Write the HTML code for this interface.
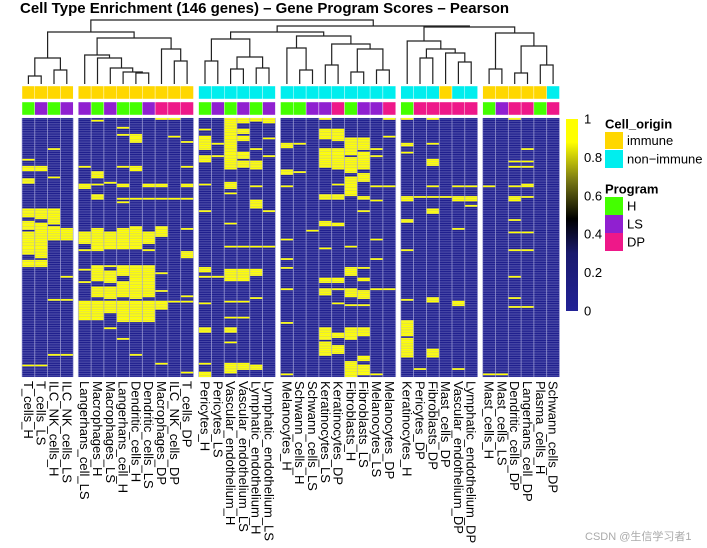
<!DOCTYPE html>
<html><head><meta charset="utf-8">
<style>
html,body{margin:0;padding:0;background:#fff;}
svg{display:block;font-family:"Liberation Sans","Noto Sans CJK SC",sans-serif;}
</style></head>
<body>
<svg id="chart" width="707" height="548" viewBox="0 0 707 548">
<text x="20" y="13" font-size="15" font-weight="bold">Cell Type Enrichment (146 genes) – Gene Program Scores – Pearson</text>
<g id="dendro"></g>
<g id="annot"></g>
<g id="cells"></g>
<g id="grid"></g>
<g id="labels"></g>
<g id="legend"></g>
<text x="585" y="540" font-size="11" fill="#aaa">CSDN @生信学习者1</text>
</svg>
<script>
const columns = ["T_cells_H","T_cells_LS","ILC_NK_cells_H","ILC_NK_cells_LS",
"Langerhans_cell_LS","Macrophages_H","Macrophages_LS","Langerhans_cell_H","Dendritic_cells_H","Dendritic_cells_LS","Macrophages_DP","ILC_NK_cells_DP","T_cells_DP",
"Pericytes_H","Pericytes_LS","Vascular_endothelium_H","Vascular_endothelium_LS","Lymphatic_endothelium_H","Lymphatic_endothelium_LS",
"Melanocytes_H","Schwann_cells_H","Schwann_cells_LS","Keratinocytes_LS","Keratinocytes_DP","Fibroblasts_H","Fibroblasts_LS","Melanocytes_LS","Melanocytes_DP",
"Keratinocytes_H","Pericytes_DP","Fibroblasts_DP","Mast_cells_DP","Vascular_endothelium_DP","Lymphatic_endothelium_DP",
"Mast_cells_H","Mast_cells_LS","Dendritic_cells_DP","Langerhans_cell_DP","Plasma_cells_H","Schwann_cells_DP"];
const groupSizes = [4,9,6,9,6,6];
const cellOrigin = ["I","I","I","I","I","I","I","I","I","I","I","I","I",
"N","N","N","N","N","N","N","N","N","N","N","N","N","N","N",
"N","N","N","I","N","N","I","I","I","I","I","N"];
const program = ["H","LS","H","LS","LS","H","LS","H","H","LS","DP","DP","DP",
"H","LS","H","LS","H","LS","H","H","LS","LS","DP","H","LS","LS","DP",
"H","DP","DP","DP","DP","DP","H","LS","DP","DP","H","DP"];
const nGenes = 146;
const baseValue = 0.06;
const hotRanges = [
[[23,23],[27,29],[34,36],[51,55],[58,62],[64,76],[80,83],[139,139]],
[[27,29],[51,56],[59,78],[80,83],[139,139]],
[[17,17],[33,33],[51,59],[61,68],[102,102],[133,133]],
[[62,68],[89,89],[102,102],[133,133]],
[[27,27],[37,39],[64,70],[74,74],[85,85],[92,92],[103,113]],
[[1,1],[30,33],[37,37],[43,45],[62,74],[83,91],[95,100],[103,113]],
[[36,36],[64,73],[83,83],[86,92],[95,101],[103,109],[118,118]],
[[5,5],[9,9],[27,27],[37,38],[45,45],[47,47],[62,73],[83,88],[92,100],[103,114],[124,124]],
[[9,13],[27,29],[45,45],[61,73],[83,101],[103,114],[133,133]],
[[37,38],[45,45],[64,70],[74,74],[83,100],[103,114]],
[[0,0],[37,38],[45,45],[61,66],[87,87],[97,97],[103,107],[138,138]],
[[0,0],[10,10],[45,45],[103,103]],
[[13,13],[27,27],[37,38],[45,45],[62,62],[75,78],[100,100],[103,103],[143,143]],
[[6,6],[10,13],[14,17],[21,24],[37,37],[52,52],[84,86],[89,89],[104,104],[118,120],[138,138],[143,145]],
[[14,14],[21,21],[89,89]],
[[0,28],[36,39],[42,42],[59,59],[72,72],[85,91],[103,103],[112,112],[118,120],[126,126],[138,143]],
[[0,2],[6,8],[10,12],[19,22],[24,27],[72,72],[85,91],[103,103],[112,112],[138,141]],
[[0,1],[17,17],[24,28],[38,38],[46,50],[72,72],[85,88],[101,101],[139,141]],
[[0,2],[11,11],[21,21],[52,52],[72,72]],
[[14,16],[29,31],[38,38],[68,68],[79,79],[84,84],[96,96],[115,115],[144,144]],
[[14,14],[30,30]],
[[63,63]],
[[0,0],[6,11],[17,21],[22,27],[43,45],[58,60],[73,73],[90,92],[96,99],[118,124],[126,133]],
[[6,12],[17,22],[23,28],[37,37],[43,45],[59,60],[90,92],[96,96],[104,104],[121,123],[128,132]],
[[11,20],[22,30],[33,37],[38,43],[72,72],[84,88],[96,100],[105,105],[118,124],[137,145]],
[[11,17],[19,28],[31,35],[44,45],[52,52],[84,84],[90,91],[97,101],[105,105],[118,122],[134,136],[139,144]],
[[17,17],[21,21],[38,38],[46,46],[68,68],[79,79],[96,96],[144,144]],
[[0,0],[10,10],[38,38],[96,96]],
[[0,0],[14,15],[19,19],[44,46],[57,58],[74,74],[102,102],[114,122],[124,133],[134,134]],
[[44,44],[141,141]],
[[0,0],[14,14],[23,26],[38,38],[44,44],[51,53],[101,103],[130,134]],
[[44,44]],
[[38,38],[44,46],[62,62],[103,105],[141,141]],
[[38,38],[44,46],[49,49]],
[[38,38],[144,144]],
[[144,144]],
[[0,0],[24,24],[27,27],[38,38],[44,46],[57,57],[64,64],[74,74],[89,89],[101,101],[106,106]],
[[17,17],[24,24],[27,27],[37,38],[44,44],[64,64],[74,74],[106,106]],
[],
[]
];
const treeG1 = [[0,1,76],[2,3,70],58];
const treeG2 = [[4,[5,[6,[7,[8,9,73],72],68],58],55],[10,[11,12,61],49],38];
const treeG3 = [[13,14,61],[[15,16,69],[17,18,68],57],39];
const treeG4 = [[19,[20,21,70],48],[[22,23,65],[[24,25,72],[26,27,70],49],44],36];
const treeG5 = [28,[[29,30,58],[31,[32,33,62],53],49],41];
const treeG6 = [[34,35,69],[[36,37,73],[38,39,65],46],33];
const dendroTree = [[treeG1,treeG2,32],[[treeG3,treeG4,32],[treeG5,treeG6,27],26],20];
const legendTicks = [0,0.2,0.4,0.6,0.8,1];

const NS="http://www.w3.org/2000/svg";
function mk(tag,attrs,parent){const e=document.createElementNS(NS,tag);for(const k in attrs)e.setAttribute(k,attrs[k]);parent.appendChild(e);return e;}

const cellW=12.8, groupGap=5.1, hmTop=118, hmBottom=377, leafBottom=84;
const rowH=(hmBottom-hmTop)/nGenes;
const colX=[];
{let x=22;groupSizes.forEach(g=>{for(let k=0;k<g;k++){colX.push(x);x+=cellW;}x+=groupGap;});}
function xScale(c){return colX[c];}
function yScale(r){return hmTop+r*rowH;}

const stops=[[0,[34,34,150]],[0.3,[26,26,110]],[0.48,[0,0,0]],[0.68,[120,120,20]],[0.88,[255,255,0]],[1,[255,255,0]]];
function color(v){for(let i=1;i<stops.length;i++){if(v<=stops[i][0]){const a=stops[i-1],b=stops[i];const t=(v-a[0])/(b[0]-a[0]);const c=a[1].map((x,j)=>Math.round(x+(b[1][j]-x)*t));return `rgb(${c[0]},${c[1]},${c[2]})`;}}return 'rgb(255,255,0)';}

const cellsG=document.getElementById('cells');
columns.forEach((name,c)=>{
  const vals=new Array(nGenes).fill(baseValue);
  hotRanges[c].forEach(([s,e])=>{for(let r=s;r<=e;r++)vals[r]=1;});
  mk('rect',{x:xScale(c),y:hmTop,width:cellW,height:hmBottom-hmTop,fill:color(baseValue)},cellsG);
  vals.forEach((v,r)=>{
    if(v===baseValue) return;
    const el=mk('rect',{x:xScale(c),y:yScale(r),width:cellW,height:rowH+0.05,fill:color(v)},cellsG);
    
    
  });
});
const gridG=document.getElementById('grid');
{let start=0;groupSizes.forEach(g=>{const x0=xScale(start),x1=xScale(start+g-1)+cellW;
  for(let r=0;r<=nGenes;r++)mk('line',{x1:x0,x2:x1,y1:yScale(r),y2:yScale(r),stroke:'rgba(200,200,240,0.45)','stroke-width':0.5},gridG);
  for(let k=0;k<=g;k++){const x=xScale(start)+k*cellW;mk('line',{x1:x,x2:x,y1:hmTop,y2:hmBottom,stroke:'rgba(170,170,220,0.8)','stroke-width':0.8},gridG);}
  start+=g;});}

const annotG=document.getElementById('annot');
const originCol={I:'#FFD700',N:'#00EEEE'}, progCol={H:'#44FF00',LS:'#9020D0',DP:'#EE1889'};
columns.forEach((n,c)=>{
  const a=mk('rect',{x:xScale(c),y:86,width:cellW,height:13,fill:originCol[cellOrigin[c]],stroke:'#fff','stroke-width':0.4},annotG);
  
  
  const b=mk('rect',{x:xScale(c),y:102,width:cellW,height:13,fill:progCol[program[c]],stroke:'#fff','stroke-width':0.4},annotG);
  
  
});

const labG=document.getElementById('labels');
columns.forEach((n,c)=>{
  const cx=xScale(c)+cellW/2;
  const t=mk('text',{x:0,y:0,'font-size':13,'dominant-baseline':'central',transform:`translate(${cx},381) rotate(90)`},labG);
  t.textContent=n;
  
  
});

const dG=document.getElementById('dendro');
function draw(node){
  if(typeof node==='number') return {x:xScale(node)+cellW/2,y:leafBottom};
  const L=draw(node[0]),R=draw(node[1]),y=node[2];
  const p=mk('path',{d:`M${L.x},${L.y}V${y}H${R.x}V${R.y}`,fill:'none',stroke:'#222','stroke-width':1.2},dG);
  
  
  return {x:(L.x+R.x)/2,y:y};
}
draw(dendroTree);

const lg=document.getElementById('legend');
const defs=mk('defs',{},lg);
const grad=mk('linearGradient',{id:'cb',x1:0,y1:1,x2:0,y2:0},defs);
stops.forEach(s=>mk('stop',{offset:s[0],'stop-color':color(s[0])},grad));
const cbTop=119,cbBot=311;
const cb=mk('rect',{x:566,y:cbTop,width:12,height:cbBot-cbTop,fill:'url(#cb)'},lg);


legendTicks.forEach(v=>{
  const y=cbBot-(cbBot-cbTop)*v;
  const t=mk('text',{x:584,y:y,'font-size':13,'dominant-baseline':'central'},lg);
  t.textContent=String(v);
  
  
});
function legTitle(txt,y,name){const t=mk('text',{x:605,y:y,'font-size':13,'font-weight':'bold','dominant-baseline':'central'},lg);t.textContent=txt;}
function legEntry(txt,col,y,h,name){const r=mk('rect',{x:605,y:y,width:18,height:h,fill:col},lg);
  const t=mk('text',{x:627,y:y+h/2,'font-size':13,'dominant-baseline':'central'},lg);t.textContent=txt;}
legTitle('Cell_origin',124,'legend-title-cell-origin');
legEntry('immune','#FFD700',132,17,'legend-entry-immune');
legEntry('non\u2212immune','#00EEEE',150,18,'legend-entry-non-immune');
legTitle('Program',189,'legend-title-program');
legEntry('H','#44FF00',197,18,'legend-entry-h');
legEntry('LS','#9020D0',215,18,'legend-entry-ls');
legEntry('DP','#EE1889',233,18,'legend-entry-dp');
</script>
</body></html>
